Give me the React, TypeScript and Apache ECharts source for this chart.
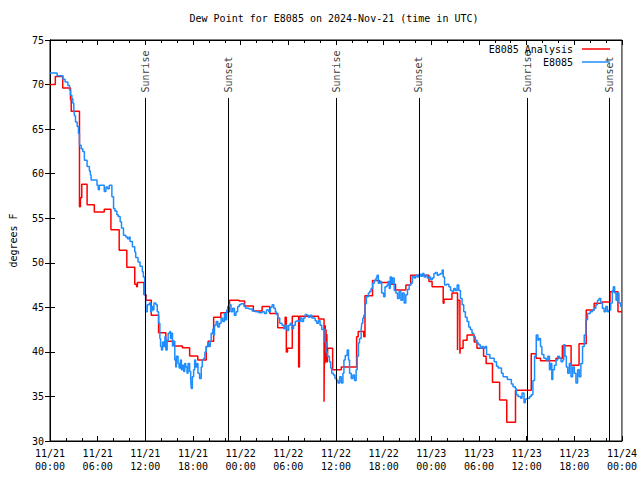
import React, { useEffect, useRef } from "react";
import * as echarts from "echarts";

const FONT = "DejaVu Sans Mono";

// hours since 2024-11-21 00:00 UTC, dew point (F)
const analysisData: [number, number][] = [
  [0, 70.0], [0.67, 70.9], [1.6, 69.6], [2.58, 68.3], [2.67, 67.0], [3.71, 56.3], [3.83, 57.3], [4.0, 58.8],
  [4.67, 56.5], [5.58, 55.7], [6.83, 56.0], [7.67, 53.7], [8.71, 51.4], [9.67, 49.5], [10.67, 47.6], [10.9, 47.3],
  [11.0, 47.8], [11.83, 46.4], [12.1, 45.8], [12.75, 44.1], [13.67, 42.15], [14.58, 41.2], [15.6, 40.66],
  [16.67, 40.47], [17.58, 39.54], [18.6, 39.1], [19.67, 40.6], [19.9, 41.2], [20.6, 43.9], [21.5, 44.4],
  [22.3, 44.5], [22.6, 45.8], [23.8, 45.7], [24.5, 45.15], [25.6, 44.6], [26.7, 45.1], [27.67, 44.3],
  [28.67, 42.7], [29.6, 43.9], [29.75, 40.0], [29.9, 40.4], [30.5, 44.0], [31.3, 38.3], [31.4, 44.0],
  [33.8, 43.7], [34.5, 34.4], [34.55, 42.9], [34.6, 38.7], [34.65, 43.0], [34.7, 38.8], [34.75, 42.5],
  [34.8, 39.0], [34.85, 42.0], [34.9, 38.8], [34.96, 40.4], [35.58, 38.0], [36.67, 38.3], [38.6, 41.7],
  [38.8, 42.3], [39.5, 41.7], [39.65, 46.3], [40.6, 48.0], [41.5, 47.8], [42.9, 47.6], [43.5, 46.95],
  [44.8, 47.5], [45.4, 48.6], [47.7, 47.9], [48.1, 47.3], [49.5, 45.45], [49.6, 45.9], [50.6, 46.6],
  [51.3, 40.2], [51.35, 45.8], [51.6, 39.8], [51.65, 40.4], [52.0, 41.3], [52.5, 41.9], [53.4, 41.1],
  [53.75, 40.4], [54.58, 39.5], [54.9, 38.7], [55.7, 36.6], [56.6, 34.6], [57.5, 32.1], [58.6, 35.7],
  [60.58, 39.8], [61.2, 39.3], [61.75, 39.0], [63.7, 39.3], [64.5, 40.7], [65.6, 38.5], [66.6, 40.9],
  [67.5, 44.7], [68.5, 45.45], [69.5, 45.6], [70.5, 46.75], [71.5, 44.5], [72.0, 44.5],
];

const obsData: [number, number][] = [
  [0.0, 71.3], [0.9, 71.0], [1.63, 70.6], [1.9, 70.3], [2.25, 69.9], [2.46, 69.4], [2.58, 68.8], [2.75, 68.4],
  [2.875, 67.9], [3.0, 67.1], [3.08, 66.5], [3.21, 65.8], [3.42, 65.3], [3.58, 64.5], [3.71, 63.2], [3.92, 62.8],
  [4.125, 62.5], [4.33, 61.5], [4.67, 60.8], [4.96, 60.3], [5.08, 59.85], [5.17, 59.3], [5.92, 58.7], [6.08, 58.2],
  [6.21, 58.7], [6.83, 58.0], [7.04, 58.5], [7.25, 58.3], [7.46, 58.7], [7.79, 57.4], [8.0, 56.1], [8.17, 55.8],
  [8.42, 55.4], [8.58, 55.2], [8.83, 54.6], [9.0, 53.9], [9.25, 53.1], [9.54, 52.9], [9.75, 52.7], [9.96, 52.9],
  [10.08, 52.4], [10.375, 51.8], [10.67, 51.2], [10.79, 50.6], [11.08, 50.1], [11.33, 49.6], [11.625, 49.0],
  [11.75, 48.4], [11.92, 46.4], [12.04, 44.5], [12.25, 45.3], [12.5, 45.5], [12.67, 44.5], [12.79, 45.1],
  [12.92, 44.7], [13.08, 45.5], [13.33, 45.3], [13.5, 44.5], [13.67, 43.2], [13.83, 41.5], [13.92, 40.6],
  [14.04, 40.2], [14.17, 41.1], [14.33, 40.6], [14.46, 41.7], [14.58, 40.2], [14.75, 41.3], [14.875, 42.1],
  [15.08, 42.3], [15.17, 41.5], [15.29, 42.1], [15.42, 40.6], [15.5, 41.2], [15.71, 39.1], [15.83, 38.3],
  [15.92, 39.5], [16.125, 38.7], [16.25, 38.2], [16.42, 39.1], [16.54, 38.0], [16.67, 38.5], [16.83, 37.8],
  [16.96, 38.7], [17.08, 38.3], [17.25, 37.6], [17.375, 38.7], [17.58, 37.8], [17.71, 36.85], [17.79, 35.9],
  [17.92, 37.2], [18.08, 38.0], [18.21, 39.1], [18.33, 38.3], [18.5, 38.7], [18.625, 37.6], [18.83, 37.0],
  [19.04, 38.3], [19.17, 39.1], [19.33, 39.3], [19.5, 40.0], [19.67, 40.6], [19.875, 41.0], [20.0, 40.6],
  [20.17, 41.2], [20.29, 42.1], [20.5, 42.6], [20.58, 41.9], [20.71, 43.0], [20.92, 43.4], [21.125, 42.8],
  [21.33, 43.2], [21.54, 43.8], [21.75, 43.4], [21.96, 44.3], [22.08, 43.6], [22.25, 44.7], [22.375, 45.1],
  [22.58, 45.3], [22.79, 44.5], [23.0, 44.9], [23.21, 44.1], [23.42, 44.5], [23.625, 45.1], [23.83, 45.3],
  [24.04, 45.4], [24.42, 45.1], [24.625, 44.9], [25.04, 44.8], [25.46, 44.6], [25.875, 44.5], [26.29, 44.4],
  [26.71, 44.5], [27.0, 44.3], [27.25, 44.7], [27.54, 44.5], [27.75, 45.0], [27.96, 45.3], [28.17, 44.9],
  [28.375, 44.5], [28.5, 44.2], [28.67, 43.8], [28.92, 43.2], [29.21, 43.0], [29.42, 42.6], [29.625, 43.0],
  [29.83, 42.4], [30.04, 43.0], [30.25, 43.2], [30.46, 42.6], [30.67, 43.0], [30.875, 43.4], [31.08, 43.5],
  [31.29, 43.4], [31.5, 43.8], [31.71, 43.4], [31.92, 43.8], [32.125, 44.2], [32.33, 44.1], [32.54, 43.9],
  [32.75, 44.1], [32.96, 43.8], [33.17, 43.8], [33.375, 43.5], [33.58, 43.2], [33.79, 43.5], [34.0, 43.0],
  [34.21, 42.5], [34.42, 42.5], [34.625, 41.1], [34.75, 40.0], [34.92, 39.5], [35.17, 38.9], [35.33, 38.2],
  [35.46, 37.6], [35.67, 37.4], [35.875, 37.0], [36.08, 36.8], [36.25, 36.5], [36.46, 37.2], [36.67, 36.5],
  [36.875, 37.6], [37.0, 39.1], [37.17, 39.6], [37.42, 40.2], [37.58, 39.1], [37.71, 37.6], [37.92, 37.0],
  [38.125, 37.4], [38.33, 36.8], [38.54, 38.0], [38.67, 39.5], [38.83, 41.0], [38.96, 41.5], [39.17, 42.5],
  [39.25, 43.2], [39.375, 43.8], [39.5, 44.1], [39.67, 45.4], [39.83, 46.2], [40.08, 46.6], [40.25, 46.8],
  [40.42, 47.1], [40.625, 47.7], [40.83, 48.0], [41.04, 48.3], [41.17, 48.6], [41.33, 47.7], [41.58, 47.9],
  [41.75, 46.6], [42.0, 46.2], [42.17, 47.3], [42.42, 47.5], [42.58, 47.9], [42.71, 47.1], [42.83, 48.4],
  [43.0, 47.7], [43.125, 48.3], [43.33, 46.9], [43.54, 46.6], [43.75, 46.0], [43.96, 46.8], [44.17, 45.8],
  [44.375, 46.6], [44.58, 45.5], [44.79, 46.4], [45.0, 47.0], [45.21, 47.5], [45.42, 47.7], [45.625, 48.5],
  [45.83, 48.3], [46.04, 48.6], [46.25, 48.4], [46.46, 48.7], [46.67, 48.5], [46.875, 48.8], [47.08, 48.4],
  [47.29, 48.6], [47.5, 48.3], [47.71, 48.4], [47.92, 48.1], [48.125, 48.3], [48.33, 48.8], [48.54, 48.9],
  [48.75, 48.6], [48.96, 48.7], [49.17, 48.8], [49.375, 49.2], [49.5, 48.4], [49.67, 47.5], [49.92, 47.6],
  [50.21, 47.3], [50.42, 46.9], [50.625, 46.8], [50.83, 47.1], [51.04, 46.9], [51.25, 47.5], [51.46, 46.9],
  [51.67, 46.0], [51.875, 45.3], [52.08, 44.5], [52.29, 43.9], [52.5, 43.4], [52.71, 42.8], [52.92, 42.5],
  [53.125, 42.1], [53.33, 41.7], [53.54, 41.3], [53.75, 41.0], [53.96, 40.8], [54.17, 40.4], [54.375, 40.6],
  [54.58, 40.4], [54.79, 40.6], [54.96, 39.7], [55.375, 39.3], [55.92, 38.9], [56.21, 38.4], [56.42, 38.2],
  [56.83, 37.6], [57.04, 37.2], [57.58, 36.9], [58.08, 36.4], [58.29, 36.1], [58.58, 35.9], [58.71, 35.2],
  [58.92, 35.0], [59.25, 34.8], [59.42, 35.4], [59.67, 34.3], [59.83, 34.7], [60.08, 34.8], [60.375, 35.0],
  [60.58, 35.2], [60.79, 36.8], [61.0, 39.5], [61.21, 41.9], [61.42, 41.3], [61.54, 41.5], [61.75, 40.6],
  [61.92, 39.7], [62.17, 39.3], [62.46, 39.1], [62.67, 39.5], [62.875, 38.0], [63.0, 38.7], [63.17, 36.9],
  [63.29, 38.0], [63.5, 38.5], [63.71, 39.1], [63.92, 39.5], [64.125, 39.3], [64.33, 38.9], [64.54, 39.1],
  [64.67, 40.8], [64.83, 39.5], [65.0, 38.3], [65.17, 37.6], [65.375, 38.7], [65.58, 37.2], [65.79, 38.3],
  [66.0, 37.6], [66.21, 36.5], [66.42, 38.0], [66.625, 37.2], [66.83, 38.7], [67.04, 40.6], [67.25, 41.9],
  [67.46, 43.6], [67.67, 44.3], [68.0, 44.5], [68.29, 44.7], [68.5, 44.9], [68.71, 45.3], [68.92, 45.8],
  [69.125, 46.0], [69.33, 45.5], [69.54, 44.9], [69.75, 44.5], [69.96, 45.1], [70.17, 44.5], [70.375, 44.7],
  [70.58, 45.5], [70.79, 46.9], [70.92, 47.3], [71.08, 46.6], [71.25, 45.8], [71.42, 46.6], [71.625, 45.5],
  [71.83, 45.1], [72.0, 45.1],
];

const sunTimes = [12.03, 22.5, 36.05, 46.45, 60.07, 70.42];
const sunLabels = ["Sunrise", "Sunset", "Sunrise", "Sunset", "Sunrise", "Sunset"];

const xTickLabels = [
  "11/21\n00:00", "11/21\n06:00", "11/21\n12:00", "11/21\n18:00",
  "11/22\n00:00", "11/22\n06:00", "11/22\n12:00", "11/22\n18:00",
  "11/23\n00:00", "11/23\n06:00", "11/23\n12:00", "11/23\n18:00",
  "11/24\n00:00",
];

const seriesNames = ["E8085 Analysis", "E8085"];
const seriesColors = ["#ff0000", "#1e8cff"];

export default function App() {
  const ref = useRef<HTMLDivElement>(null);
  useEffect(() => {
    if (!ref.current) return;
    const chart = echarts.init(ref.current, undefined, { renderer: "svg" });
    const txt = { fontFamily: FONT, fontSize: 10, color: "#000" };
    const xBase = {
      type: "value",
      min: 0,
      max: 72,
      interval: 6,
      axisLine: { show: true, lineStyle: { color: "#000", width: 1 } },
      axisTick: { show: true, inside: true, length: 5, lineStyle: { color: "#000" } },
      minorTick: { show: true, splitNumber: 3, length: 3, lineStyle: { color: "#000" } },
      splitLine: { show: false },
    };
    const yBase = {
      type: "value",
      min: 30,
      max: 75,
      interval: 5,
      axisLine: { show: true, lineStyle: { color: "#000", width: 1 } },
      axisTick: { show: true, inside: true, length: 5, lineStyle: { color: "#000" } },
      splitLine: { show: false },
    };
    chart.setOption({
      animation: false,
      backgroundColor: "#fff",
      title: {
        text: "Dew Point for E8085 on 2024-Nov-21 (time in UTC)",
        left: 334,
        top: 13,
        padding: 0,
        textAlign: "center",
        textStyle: { ...txt, fontWeight: "normal" },
      },
      legend: {
        data: seriesNames.map((n) => ({ name: n, icon: "rect" })),
        orient: "vertical",
        right: 30,
        top: 43,
        align: "right",
        itemWidth: 28,
        itemHeight: 1.5,
        itemGap: 1,
        padding: 0,
        textStyle: { ...txt, lineHeight: 12, height: 12, padding: [0, 4, 0, 0] },
      },
      grid: {
        left: 46,
        right: 18,
        top: 40,
        bottom: 39,
        show: true,
        borderColor: "#000",
        borderWidth: 1,
      },
      xAxis: [
        {
          ...xBase,
          position: "bottom",
          axisLabel: {
            ...txt,
            margin: 6,
            lineHeight: 13,
            showMinLabel: true,
            showMaxLabel: true,
            formatter: (v: number) => xTickLabels[Math.round(v / 6)] ?? "",
          },
        },
        { ...xBase, position: "top", axisLabel: { show: false } },
      ],
      yAxis: [
        {
          ...yBase,
          position: "left",
          axisLabel: { ...txt, margin: 6 },
          name: "degrees F",
          nameLocation: "middle",
          nameGap: 32,
          nameRotate: 90,
          nameTextStyle: txt,
        },
        { ...yBase, position: "right", axisLabel: { show: false } },
      ],
      series: [
        {
          name: seriesNames[0],
          type: "line",
          step: "end",
          data: analysisData,
          symbol: "none",
          color: seriesColors[0],
          lineStyle: { color: seriesColors[0], width: 1.5 },
          markLine: {
            silent: true,
            symbol: "none",
            label: { show: false },
            lineStyle: { color: "#000", width: 1, type: "solid" },
            data: sunTimes.map((t) => [{ coord: [t, 30] }, { coord: [t, 68.5] }]),
          },
        },
        {
          name: seriesNames[1],
          type: "line",
          step: "end",
          data: obsData,
          symbol: "none",
          color: seriesColors[1],
          lineStyle: { color: seriesColors[1], width: 1.5 },
        },
        {
          name: "sun",
          type: "scatter",
          silent: true,
          symbolSize: 0,
          data: sunTimes.map((t, i) => ({ value: [t, 69.1], name: sunLabels[i] })),
          label: {
            show: true,
            formatter: "{b}",
            position: "inside",
            align: "left",
            verticalAlign: "middle",
            rotate: 90,
            ...txt,
          },
        },
      ],
    });
    return () => chart.dispose();
  }, []);
  return (
    <div
      ref={ref}
      style={{ position: "fixed", left: 0, top: 0, width: 640, height: 480 }}
    />
  );
}
